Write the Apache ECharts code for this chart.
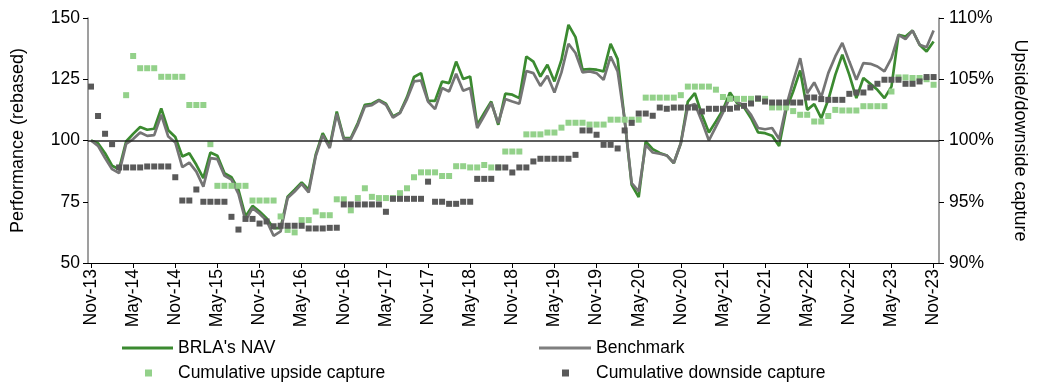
<!DOCTYPE html>
<html>
<head>
<meta charset="utf-8">
<script src="https://cdn.jsdelivr.net/npm/echarts@6/dist/echarts.min.js"></script>
<style>
  html, body { margin: 0; padding: 0; background: #ffffff; }
  #chart { width: 1037px; height: 385px; }
</style>
</head>
<body>
<div id="chart"></div>
<script>
// Month index 0 = Nov-13, one step per month up to Nov-23 (index 120)
const tickLabels = ['Nov-13', 'May-14', 'Nov-14', 'May-15', 'Nov-15', 'May-16', 'Nov-16', 'May-17',
  'Nov-17', 'May-18', 'Nov-18', 'May-19', 'Nov-19', 'May-20', 'Nov-20', 'May-21', 'Nov-21',
  'May-22', 'Nov-22', 'May-23', 'Nov-23'];
const tickMonths = [0, 6, 12, 18, 24, 30, 36, 42, 48, 54, 60, 66, 72, 78, 84, 90, 96, 102, 108, 114, 120];

// Performance, rebased to 100
const navValues = [
  100, 98.9, 94.8, 89.7, 88.3, 99.6, 102.7, 105.5, 104.4, 104.8,
  113.1, 104.2, 101.4, 93.5, 94.8, 90.1, 84.6, 95.1, 93.8, 86.7,
  85.0, 79.9, 69.0, 73.3, 71.0, 68.3, 64.2, 64.2, 77.1, 79.9,
  82.9, 79.9, 94.2, 103.0, 97.6, 111.8, 101.0, 101.0, 107.1, 114.6,
  115.0, 116.6, 115.0, 109.8, 111.4, 117.7, 125.9, 127.5, 116.3, 116.2,
  124.1, 123.4, 132.2, 125.1, 126.1, 106.4, 111.2, 115.9, 106.4, 119.1,
  118.7, 117.3, 134.3, 132.2, 126.1, 130.9, 124.1, 132.9, 147.2, 142.2,
  128.9, 129.1, 128.9, 128.2, 139.5, 133.2, 108.4, 81.9, 76.9, 99.6,
  96.5, 94.9, 93.9, 90.8, 98.9, 115.9, 119.3, 110.5, 103.3, 107.8,
  112.5, 119.6, 115.3, 113.6, 109.1, 103.3, 103.0, 101.9, 97.8, 112.5,
  120.0, 128.6, 112.5, 114.9, 109.1, 116.6, 126.8, 135.0, 126.8, 117.3,
  125.5, 123.1, 120.7, 117.3, 122.0, 143.1, 142.4, 144.9, 139.1, 136.3,
  140.4
];
const benchmarkValues = [
  100, 97.8, 92.8, 88.3, 86.7, 98.6, 100.6, 103.3, 101.9, 102.2,
  110.5, 101.6, 99.2, 89.1, 91.0, 87.3, 81.2, 92.8, 92.4, 85.7,
  84.0, 78.2, 67.3, 72.4, 70.1, 67.3, 61.1, 62.9, 76.5, 79.2,
  82.3, 78.8, 93.5, 102.2, 96.9, 110.9, 100.6, 100.6, 106.4, 113.9,
  114.4, 116.3, 114.6, 109.3, 111.2, 116.9, 124.1, 124.5, 115.9, 112.8,
  121.4, 120.0, 127.2, 120.3, 121.4, 105.1, 110.1, 115.3, 107.1, 116.9,
  115.9, 115.0, 128.4, 127.5, 122.3, 126.4, 119.6, 127.8, 139.5, 135.7,
  127.8, 128.2, 127.5, 124.8, 134.3, 128.2, 108.4, 82.6, 79.2, 98.2,
  95.1, 94.6, 93.9, 90.8, 98.9, 113.9, 114.9, 107.8, 100.0, 105.7,
  111.4, 117.7, 115.9, 114.2, 110.5, 105.1, 104.6, 105.1, 100.6, 113.9,
  124.1, 133.6, 119.3, 123.7, 117.7, 127.5, 134.3, 139.8, 132.2, 124.8,
  131.6, 131.3, 130.2, 128.2, 133.6, 143.1, 141.4, 144.9, 139.1, 138.1,
  144.9
];

// Capture ratios, in percent (right axis); no upside figure for the first months
const upsideCapture = [
  null, null, null, null, null, 103.7, 106.9, 105.9, 105.9, 105.9,
  105.2, 105.2, 105.2, 105.2, 102.9, 102.9, 102.9, 99.7, 96.3, 96.3,
  96.3, 96.3, 96.3, 95.1, 95.1, 95.1, 95.1, 93.8, 92.7, 92.5,
  93.5, 93.5, 94.2, 93.9, 93.9, 95.2, 95.2, 94.3, 95.3, 96.1,
  95.4, 95.3, 95.3, 95.3, 95.7, 96.1, 97.0, 97.4, 97.4, 97.4,
  97.1, 97.1, 97.9, 97.9, 97.8, 97.8, 98.0, 97.8, 97.8, 99.1,
  99.1, 99.1, 100.5, 100.5, 100.5, 100.65, 100.65, 101.05, 101.45, 101.45,
  101.45, 101.3, 101.3, 101.3, 101.7, 101.7, 101.7, 101.7, 101.7, 103.5,
  103.5, 103.5, 103.5, 103.5, 103.7, 104.4, 104.4, 104.4, 104.4, 104.15,
  103.55, 103.4, 103.4, 103.4, 103.4, 103.4, 103.4, 102.7, 102.7, 102.7,
  102.4, 102.1, 102.1, 101.55, 101.55, 102.0, 102.5, 102.45, 102.45, 102.45,
  102.8, 102.8, 102.8, 102.8, 104.0, 105.15, 105.15, 105.1, 105.1, 105.0,
  104.55
];
const downsideCapture = [
  104.4, 102.0, 100.55, 99.7, 97.8, 97.8, 97.8, 97.8, 97.88, 97.88,
  97.88, 97.88, 97.0, 95.1, 95.1, 96.0, 95.0, 95.0, 95.0, 95.0,
  93.77, 92.73, 93.6, 93.6, 93.22, 93.39, 93.0, 93.04, 93.04, 93.04,
  93.04, 92.82, 92.82, 92.82, 92.87, 92.88, 94.78, 94.78, 94.78, 94.78,
  94.78, 94.78, 94.18, 95.24, 95.24, 95.24, 95.24, 95.24, 96.64, 95.0,
  95.0, 94.83, 94.83, 95.0, 95.0, 96.87, 96.87, 96.87, 97.8, 97.8,
  97.39, 97.8, 97.8, 98.29, 98.51, 98.51, 98.51, 98.51, 98.51, 98.83,
  100.82, 100.82, 100.47, 99.65, 99.65, 99.35, 100.82, 101.44, 102.2, 102.2,
  102.02, 102.69, 102.59, 102.69, 102.69, 102.69, 102.69, 102.37, 102.59, 102.59,
  102.59, 102.59, 102.69, 102.83, 103.02, 103.43, 103.18, 103.1, 103.1, 103.1,
  103.1, 103.1, 103.51, 103.51, 103.38, 103.32, 103.32, 103.32, 103.81, 103.92,
  103.92, 104.33, 104.63, 104.96, 104.96, 104.96, 104.63, 104.63, 104.82, 105.18,
  105.18
];

const FONT = '"Liberation Sans", Arial, sans-serif';
const FS = 17.5;   // tick labels and legend
const FS_NAME = 18; // axis titles

const toPoints = arr => arr
  .map((v, i) => [i, v])
  .filter(p => p[1] !== null);

const chart = echarts.init(document.getElementById('chart'), null, { renderer: 'canvas' });

const legendBase = {
  orient: 'horizontal',
  icon: 'rect',
  selectedMode: false,
  textStyle: { fontFamily: FONT, fontSize: FS, color: '#000' }
};

chart.setOption({
  animation: false,
  backgroundColor: '#ffffff',
  textStyle: { fontFamily: FONT },
  grid: { left: 88, right: 97, top: 18, bottom: 122, containLabel: false },
  legend: [
    Object.assign({}, legendBase, {
      data: ["BRLA's NAV"], left: 117, top: 334, itemWidth: 51, itemHeight: 3
    }),
    Object.assign({}, legendBase, {
      data: ['Benchmark'], left: 534, top: 334, itemWidth: 52, itemHeight: 3
    }),
    Object.assign({}, legendBase, {
      data: ['Cumulative upside capture'], left: 140, top: 359, itemWidth: 7, itemHeight: 7,
      textStyle: Object.assign({}, legendBase.textStyle, { padding: [0, 0, 0, 21] })
    }),
    Object.assign({}, legendBase, {
      data: ['Cumulative downside capture'], left: 557, top: 359, itemWidth: 7, itemHeight: 7,
      textStyle: Object.assign({}, legendBase.textStyle, { padding: [0, 0, 0, 22] })
    })
  ],
  xAxis: {
    type: 'value',
    min: -0.43,
    max: 120.77,
    splitLine: { show: false },
    axisLine: { show: true, onZero: false, lineStyle: { color: '#000', width: 1.2 } },
    axisTick: { show: true, customValues: tickMonths, length: 5, lineStyle: { color: '#000' } },
    axisLabel: {
      customValues: tickMonths,
      rotate: 90,
      margin: 6,
      fontFamily: FONT,
      fontSize: FS,
      color: '#000',
      formatter: v => tickLabels[tickMonths.indexOf(Math.round(v))] || ''
    }
  },
  yAxis: [
    {
      type: 'value',
      min: 50, max: 150, interval: 25,
      name: 'Performance (rebased)',
      nameLocation: 'middle',
      nameRotate: 90,
      nameGap: 61,
      nameTextStyle: { fontFamily: FONT, fontSize: FS_NAME, color: '#000' },
      splitLine: { show: false },
      axisLine: { show: true, onZero: false, lineStyle: { color: '#7f7f7f', width: 1.5 } },
      axisTick: { show: true, length: 5, lineStyle: { color: '#000' } },
      axisLabel: { margin: 8, fontFamily: FONT, fontSize: FS, color: '#000' }
    },
    {
      type: 'value',
      position: 'right',
      min: 90, max: 110, interval: 5,
      name: 'Upside/downside capture',
      nameLocation: 'middle',
      nameRotate: -90,
      nameGap: 72,
      nameTextStyle: { fontFamily: FONT, fontSize: FS_NAME, color: '#000' },
      splitLine: { show: false },
      axisLine: { show: true, onZero: false, lineStyle: { color: '#7f7f7f', width: 1.5 } },
      axisTick: { show: true, length: 5, lineStyle: { color: '#000' } },
      axisLabel: { margin: 10, fontFamily: FONT, fontSize: FS, color: '#000', formatter: '{value}%' }
    }
  ],
  series: [
    {
      name: "BRLA's NAV",
      type: 'line',
      yAxisIndex: 0,
      data: toPoints(navValues),
      showSymbol: false,
      symbol: 'none',
      lineStyle: { color: '#3b8a30', width: 2.7 },
      itemStyle: { color: '#3b8a30' },
      z: 2,
      markLine: {
        silent: true,
        symbol: ['none', 'none'],
        label: { show: false },
        lineStyle: { color: '#262626', width: 1.6, type: 'solid' },
        data: [{ yAxis: 100 }]
      }
    },
    {
      name: 'Benchmark',
      type: 'line',
      yAxisIndex: 0,
      data: toPoints(benchmarkValues),
      showSymbol: false,
      symbol: 'none',
      lineStyle: { color: '#757575', width: 2.7 },
      itemStyle: { color: '#7f7f7f' },
      z: 3
    },
    {
      name: 'Cumulative upside capture',
      type: 'scatter',
      yAxisIndex: 1,
      data: toPoints(upsideCapture),
      symbol: 'rect',
      symbolSize: 6,
      itemStyle: { color: '#93d18a', opacity: 1 },
      z: 4
    },
    {
      name: 'Cumulative downside capture',
      type: 'scatter',
      yAxisIndex: 1,
      data: toPoints(downsideCapture),
      symbol: 'rect',
      symbolSize: 6,
      itemStyle: { color: '#595959', opacity: 1 },
      z: 5
    }
  ]
});
</script>
</body>
</html>
